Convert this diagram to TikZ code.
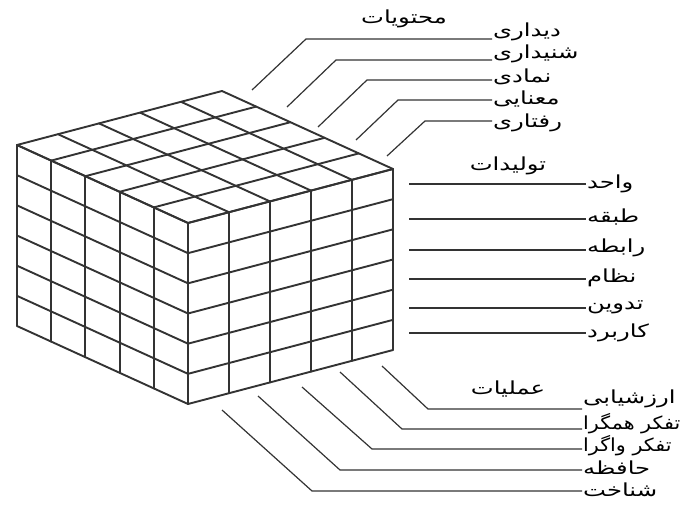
\documentclass[tikz,border=0pt]{standalone}
\usepackage{fontspec}
\newfontfamily\arabicfont[Script=Arabic,FakeStretch=1.35]{DejaVu Sans}
\newfontfamily\arabicnarrow[Script=Arabic,FakeStretch=1.15]{DejaVu Sans}
\TeXXeTstate=1
\newcommand\fa[1]{{\arabicfont\beginR #1\endR}}
\newcommand\fan[1]{{\arabicnarrow\beginR #1\endR}}
\begin{document}
\begin{tikzpicture}[x=1pt,y=-1pt,
  grid/.style={line width=1.9pt,black!80,line cap=round,line join=round},
  leader/.style={line width=1.2pt,black!80},
  lab/.style={inner sep=1pt,font=\fontsize{18}{20}\selectfont,anchor=west},
  ttl/.style={inner sep=1pt,font=\fontsize{18}{20}\selectfont}]
\useasboundingbox (0,0) rectangle (691,506);
% cube: left face
\foreach \i in {0,...,5} {\draw[grid] ({188-171*\i/5},{223-78*\i/5}) -- ++(0,181);}
\foreach \j in {0,...,6} {\draw[grid] (188,{223+181*\j/6}) -- ++(-171,-78);}
% right face
\foreach \i in {0,...,5} {\draw[grid] ({188+205*\i/5},{223-54*\i/5}) -- ++(0,181);}
\foreach \j in {0,...,6} {\draw[grid] (188,{223+181*\j/6}) -- ++(205,-54);}
% top face
\foreach \i in {0,...,5} {\draw[grid] ({188-171*\i/5},{223-78*\i/5}) -- ++(205,-54);}
\foreach \i in {0,...,5} {\draw[grid] ({188+205*\i/5},{223-54*\i/5}) -- ++(-171,-78);}

% titles
\node[ttl] (tc) at (404,19) {\fa{محتویات}};
\node[ttl] (tp) at (508,166) {\fa{تولیدات}};
\node[ttl] (to) at (508,389) {\fa{عملیات}};

% contents
\node[lab] (c1) at (492,32) {\fa{دیداری}};
\node[lab] (c2) at (492,54) {\fa{شنیداری}};
\node[lab] (c3) at (492,77) {\fa{نمادی}};
\node[lab] (c4) at (492,99) {\fa{معنایی}};
\node[lab] (c5) at (492,123) {\fa{رفتاری}};
\coordinate (cs1) at (252,90);  \coordinate (ck1) at (306,39);
\coordinate (cs2) at (287,107); \coordinate (ck2) at (336,60);
\coordinate (cs3) at (318,127); \coordinate (ck3) at (367,80);
\coordinate (cs4) at (356,140); \coordinate (ck4) at (398,100);
\coordinate (cs5) at (387,156); \coordinate (ck5) at (425,121);
\foreach \k in {1,...,5} {\draw[leader] (cs\k) -- (ck\k) -- (c\k.west |- ck\k);}

% products
\node[lab] (p1) at (586,184) {\fa{واحد}};
\node[lab] (p2) at (586,217) {\fa{طبقه}};
\node[lab] (p3) at (586,248) {\fa{رابطه}};
\node[lab] (p4) at (586,278) {\fa{نظام}};
\node[lab] (p5) at (586,307) {\fa{تدوین}};
\node[lab] (p6) at (586,333) {\fa{کاربرد}};
\coordinate (ps1) at (409,184);
\coordinate (ps2) at (409,219);
\coordinate (ps3) at (409,250);
\coordinate (ps4) at (409,279);
\coordinate (ps5) at (409,308);
\coordinate (ps6) at (409,333);
\foreach \k in {1,...,6} {\draw[leader] (ps\k) -- (p\k.west |- ps\k);}

% operations
\node[lab] (o1) at (582,399) {\fa{ارزشیابی}};
\node[lab] (o2) at (582,424) {\fan{تفکر همگرا}};
\node[lab] (o3) at (582,446) {\fan{تفکر واگرا}};
\node[lab] (o4) at (582,468) {\fa{حافظه}};
\node[lab] (o5) at (582,490) {\fa{شناخت}};
\coordinate (os1) at (382,366); \coordinate (ok1) at (428,409);
\coordinate (os2) at (340,372); \coordinate (ok2) at (402,429);
\coordinate (os3) at (302,387); \coordinate (ok3) at (372,449);
\coordinate (os4) at (258,396); \coordinate (ok4) at (340,470);
\coordinate (os5) at (222,410); \coordinate (ok5) at (312,491);
\foreach \k in {1,...,5} {\draw[leader] (os\k) -- (ok\k) -- (o\k.west |- ok\k);}
\end{tikzpicture}
\end{document}
